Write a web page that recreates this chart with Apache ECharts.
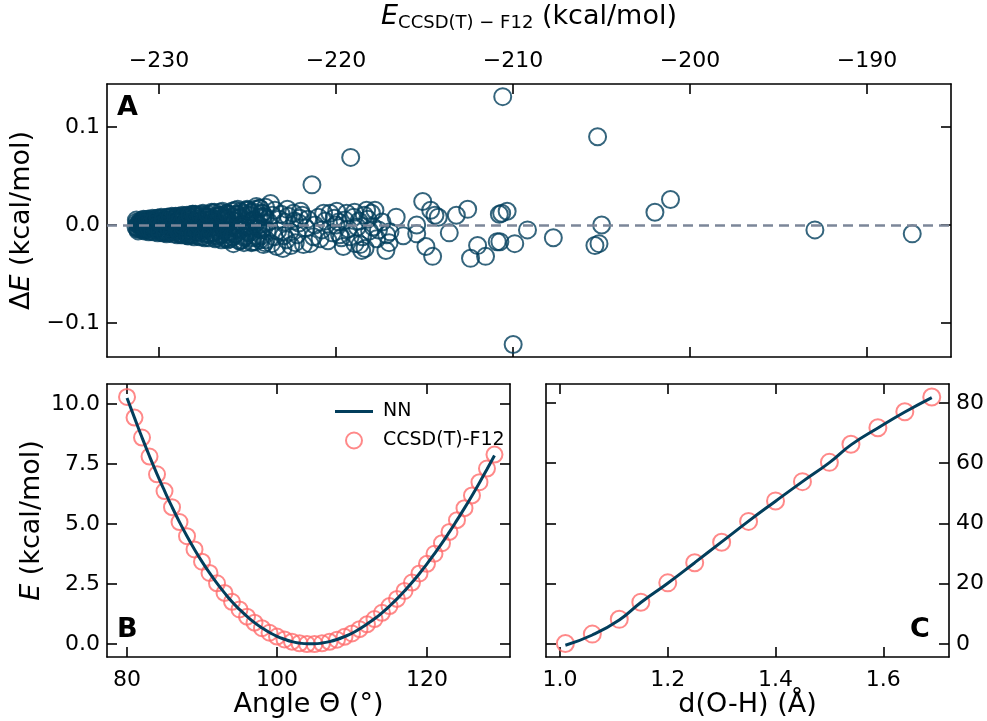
<!DOCTYPE html>
<html>
<head>
<meta charset="utf-8">
<script src="https://cdn.jsdelivr.net/npm/echarts@6/dist/echarts.min.js"></script>
<style>
  html, body { margin: 0; padding: 0; background: #fff; }
  #chart { width: 987px; height: 721px; }
</style>
</head>
<body>
<div id="chart"></div>
<script>
// panel A: E_CCSD(T)-F12 vs NN error
const aPoints = [
  [-231.3, -0.002], [-231.2, 0.001], [-231.1, -0.003], [-231.0, 0.002], [-230.9, -0.001], [-230.8, 0.003],
  [-230.7, -0.004], [-230.6, 0.000], [-230.5, 0.004], [-230.4, -0.003], [-230.3, 0.002], [-230.2, -0.005],
  [-230.1, 0.001], [-230.0, 0.004], [-229.9, -0.004], [-229.8, 0.002], [-229.7, -0.006], [-229.6, 0.005],
  [-229.5, -0.002], [-229.4, 0.003], [-229.3, -0.005], [-229.2, 0.006], [-229.1, -0.001], [-229.0, 0.004],
  [-231.25, 0.003], [-231.15, -0.004], [-231.05, 0.000], [-230.95, 0.004], [-230.85, -0.005], [-230.75, 0.002],
  [-230.65, -0.002], [-230.55, -0.006], [-230.45, 0.005], [-230.35, -0.001], [-230.25, 0.006], [-230.15, -0.004],
  [-230.05, -0.002], [-229.95, 0.007], [-229.85, -0.007], [-229.75, 0.004], [-229.65, -0.001], [-229.55, 0.008],
  [-229.45, -0.008], [-229.35, 0.000], [-229.25, -0.003], [-229.15, 0.007], [-229.05, -0.006],
  [-231.28, 0.005], [-231.18, -0.006], [-231.08, 0.001], [-230.98, -0.002], [-230.88, 0.006], [-230.78, -0.005],
  [-230.68, 0.003], [-230.58, -0.007], [-230.48, 0.000], [-230.38, 0.007], [-230.28, -0.003], [-230.18, 0.004],
  [-230.08, -0.008], [-229.98, 0.002], [-229.88, 0.008], [-229.78, -0.006], [-229.68, 0.001], [-229.58, -0.009],
  [-229.48, 0.006], [-229.38, -0.001], [-229.28, 0.009], [-229.18, -0.004], [-229.08, 0.003], [-228.98, -0.010],
  [-228.88, 0.007], [-228.78, -0.002], [-228.68, 0.010], [-228.58, -0.007], [-228.48, 0.002], [-228.38, -0.011],
  [-228.28, 0.008], [-228.18, -0.003], [-228.08, 0.011],
  [-231.22, -0.004], [-231.12, 0.002], [-231.02, -0.001], [-230.92, 0.005], [-230.82, -0.006], [-230.72, 0.000],
  [-230.62, 0.006], [-230.52, -0.003], [-230.42, 0.004], [-230.32, -0.007], [-230.22, 0.001], [-230.12, 0.007],
  [-230.02, -0.005], [-229.92, 0.003], [-229.82, -0.008], [-229.72, 0.005], [-229.62, 0.000], [-229.52, 0.008],
  [-229.42, -0.006], [-229.32, 0.002], [-229.22, -0.009], [-229.12, 0.006], [-229.02, -0.001], [-228.92, 0.009],
  [-228.82, -0.008], [-228.72, 0.004], [-228.62, -0.010], [-228.52, 0.003], [-228.42, 0.010], [-228.32, -0.009],
  [-228.22, 0.000], [-228.12, 0.011], [-228.02, -0.012],
  [-231.16, 0.000], [-231.06, 0.004], [-230.96, -0.005], [-230.86, 0.002], [-230.76, -0.003], [-230.66, 0.006],
  [-230.56, -0.004], [-230.46, 0.001], [-230.36, -0.006], [-230.26, 0.005], [-230.16, -0.002], [-230.06, 0.007],
  [-229.96, -0.007], [-229.86, 0.000], [-229.76, 0.006], [-229.66, -0.008], [-229.56, 0.004], [-229.46, -0.003],
  [-229.36, 0.008], [-229.26, -0.007], [-229.16, 0.001], [-229.06, 0.009], [-228.96, -0.005], [-228.86, 0.005],
  [-228.76, -0.010], [-228.66, 0.000], [-228.56, 0.009], [-228.46, -0.006], [-228.36, 0.006], [-228.26, 0.001],
  [-228.16, -0.010], [-228.06, 0.004], [-227.96, -0.004],
  [-227.92, 0.010], [-227.82, -0.011], [-227.72, 0.004], [-227.62, -0.005], [-227.52, 0.012], [-227.42, -0.013],
  [-227.32, 0.002], [-227.22, 0.008], [-227.12, -0.009], [-227.02, 0.013], [-226.92, -0.002], [-226.82, -0.014],
  [-226.72, 0.009], [-226.62, 0.001], [-226.52, -0.010], [-226.42, 0.014], [-226.32, -0.006], [-226.22, 0.006],
  [-226.12, -0.015], [-226.02, 0.011], [-225.92, 0.000], [-225.82, -0.012], [-225.72, 0.015], [-225.62, -0.004],
  [-225.52, 0.007], [-225.42, -0.016], [-225.32, 0.012], [-225.22, -0.001], [-225.12, -0.011], [-225.02, 0.016],
  [-224.92, -0.008], [-224.82, 0.004], [-224.72, -0.017], [-224.62, 0.013], [-224.52, 0.002], [-224.42, -0.013],
  [-224.32, 0.017], [-224.22, -0.005], [-224.12, 0.009], [-224.02, -0.018],
  [-227.88, -0.007], [-227.78, 0.006], [-227.68, -0.012], [-227.58, 0.011], [-227.48, 0.000], [-227.38, -0.004],
  [-227.28, 0.009], [-227.18, -0.013], [-227.08, 0.005], [-226.98, -0.008], [-226.88, 0.013], [-226.78, 0.003],
  [-226.68, -0.011], [-226.58, 0.010], [-226.48, -0.015], [-226.38, 0.007], [-226.28, -0.002], [-226.18, 0.012],
  [-226.08, -0.007], [-225.98, -0.014], [-225.88, 0.014], [-225.78, 0.004], [-225.68, -0.009], [-225.58, 0.011],
  [-225.48, -0.016], [-225.38, 0.008], [-225.28, 0.001], [-225.18, -0.013], [-225.08, 0.015], [-224.98, -0.006],
  [-224.88, 0.010], [-224.78, -0.018], [-224.68, 0.005], [-224.58, 0.016], [-224.48, -0.011], [-224.38, 0.000],
  [-224.28, -0.015], [-224.18, 0.012], [-224.08, -0.003], [-223.98, 0.018],
  [-228.9, -0.006], [-228.8, 0.005], [-228.7, -0.003], [-228.6, 0.007], [-228.5, -0.008], [-228.4, 0.002],
  [-228.3, -0.005], [-228.2, 0.006], [-228.1, -0.007], [-228.0, 0.004], [-227.9, -0.002], [-227.8, 0.007],
  [-227.7, -0.008], [-227.6, 0.003], [-227.5, -0.005], [-227.4, 0.008], [-227.3, -0.009], [-227.2, 0.005],
  [-227.1, -0.003], [-227.0, 0.007], [-226.9, -0.008], [-226.8, 0.002], [-226.7, -0.006], [-226.6, 0.009],
  [-226.5, -0.010], [-226.4, 0.004], [-226.3, -0.004], [-226.2, 0.007], [-226.1, -0.009], [-226.0, 0.003],
  [-228.6, -0.001], [-228.2, 0.000], [-227.6, -0.004], [-227.2, 0.001], [-226.8, -0.011], [-226.4, 0.010],
  [-226.2, -0.013], [-227.9, 0.009], [-228.4, -0.010],
  [-228.95, 0.008], [-228.85, -0.009], [-228.75, 0.001], [-228.65, -0.004], [-228.55, 0.009], [-228.45, 0.003],
  [-228.35, -0.011], [-228.25, 0.010], [-228.15, -0.002], [-228.05, -0.010], [-227.95, 0.011], [-227.85, -0.006],
  [-227.75, 0.000], [-227.65, 0.010], [-227.55, -0.012], [-227.45, 0.004], [-227.35, -0.002], [-227.25, 0.011],
  [-227.15, -0.010], [-227.05, -0.005], [-226.95, 0.012], [-226.85, 0.006], [-226.75, -0.013], [-226.65, -0.001],
  [-226.55, 0.013], [-226.45, -0.008], [-226.35, 0.008], [-226.25, -0.014], [-226.15, 0.012], [-226.05, -0.007],
  [-225.9, -0.012], [-225.8, 0.008], [-225.8, -0.019], [-225.6, 0.011], [-225.5, -0.005], [-225.4, 0.014],
  [-225.3, -0.015], [-225.2, -0.018], [-225.1, 0.004], [-225.0, 0.010], [-224.9, -0.008], [-224.8, 0.013],
  [-224.7, -0.013], [-224.6, 0.005], [-224.5, 0.019], [-224.4, -0.004], [-224.3, 0.017], [-224.2, -0.011],
  [-224.1, -0.020], [-224.0, 0.008], [-223.9, -0.006], [-223.7, 0.022], [-223.6, 0.010], [-223.5, -0.012],
  [-225.95, 0.006], [-225.7, -0.010], [-225.55, 0.016], [-225.35, -0.001], [-225.15, -0.012], [-224.95, 0.015],
  [-224.75, -0.003], [-224.55, -0.017], [-224.35, 0.008], [-224.15, 0.012], [-223.95, -0.015], [-223.8, 0.003],
  [-223.65, -0.019], [-223.45, 0.015], [-223.3, -0.006], [-223.1, 0.011], [-222.95, -0.011], [-222.75, 0.016],
  [-222.55, -0.021], [-222.35, 0.004], [-222.2, -0.010], [-222.05, 0.007],
  [-223.35, -0.022], [-223.2, 0.006], [-223.0, -0.024], [-222.9, 0.003], [-222.8, -0.015], [-222.7, 0.009],
  [-222.6, -0.007], [-222.4, 0.012], [-222.3, -0.018], [-222.1, 0.002], [-222.0, 0.014], [-221.84, -0.020],
  [-221.9, 0.010], [-221.6, 0.006], [-221.2, 0.000], [-220.9, -0.014], [-220.7, 0.012], [-220.45, -0.016],
  [-220.1, 0.007], [-219.85, 0.003], [-219.7, -0.013], [-219.5, 0.005], [-219.2, -0.012], [-218.95, 0.013],
  [-218.7, 0.004], [-218.5, -0.012], [-218.2, 0.006], [-218.0, 0.012], [-217.7, -0.014], [-217.4, 0.003],
  [-217.0, -0.018],
  [-221.7, -0.003], [-221.47, -0.019], [-221.36, 0.041], [-221.28, -0.012], [-221.0, 0.008], [-220.8, -0.005],
  [-220.6, 0.004], [-220.34, 0.012], [-220.2, -0.008], [-220.0, 0.000], [-219.96, 0.014], [-219.8, -0.010],
  [-219.59, -0.022], [-219.4, 0.012], [-219.3, -0.004], [-219.17, 0.069], [-219.0, 0.008], [-218.93, -0.019],
  [-218.8, -0.002], [-218.64, -0.020], [-218.55, -0.026], [-218.4, 0.010], [-218.36, -0.024], [-218.27, 0.015],
  [-218.1, -0.006], [-217.9, -0.002], [-217.8, 0.015], [-217.6, -0.005], [-217.18, -0.026], [-217.14, -0.010],
  [-216.95, -0.007], [-216.6, 0.008], [-216.2, -0.011], [-215.44, 0.000], [-215.44, -0.009], [-215.1, 0.024],
  [-214.92, -0.022], [-214.65, 0.015], [-214.54, -0.032], [-214.41, 0.010], [-214.22, 0.008], [-213.6, -0.008],
  [-213.2, 0.010], [-212.56, 0.016], [-212.4, -0.034], [-212.0, -0.021], [-211.55, -0.032], [-210.89, -0.017],
  [-210.77, 0.011], [-210.74, -0.017], [-210.64, 0.012], [-210.58, 0.131], [-210.33, 0.014], [-209.99, -0.122],
  [-209.9, -0.019], [-209.18, -0.005], [-207.72, -0.013], [-205.37, -0.021], [-205.22, 0.090], [-205.14, -0.019],
  [-204.99, 0.000], [-201.98, 0.013], [-201.1, 0.026], [-192.94, -0.005], [-187.44, -0.009]
]

// panel B: bending scan
const bAngle = [80, 81, 82, 83, 84, 85, 86, 87, 88, 89, 90, 91, 92, 93, 94, 95, 96, 97, 98, 99,
  100, 101, 102, 103, 104, 105, 106, 107, 108, 109, 110, 111, 112, 113, 114, 115, 116, 117, 118, 119,
  120, 121, 122, 123, 124, 125, 126, 127, 128, 129]
const bRef = [10.29, 9.43, 8.60, 7.81, 7.07, 6.37, 5.70, 5.08, 4.49, 3.94, 3.43, 2.96, 2.53, 2.13, 1.76,
  1.44, 1.14, 0.89, 0.66, 0.47, 0.31, 0.19, 0.10, 0.03, 0.00, 0.00, 0.03, 0.09, 0.18, 0.30,
  0.44, 0.62, 0.82, 1.04, 1.30, 1.58, 1.88, 2.21, 2.56, 2.94, 3.34, 3.76, 4.20, 4.67, 5.16,
  5.66, 6.19, 6.74, 7.31, 7.89]
const bNN = [10.25, 9.42, 8.60, 7.82, 7.08, 6.38, 5.71, 5.08, 4.49, 3.94, 3.43, 2.96, 2.53, 2.13, 1.76,
  1.44, 1.15, 0.89, 0.67, 0.48, 0.32, 0.20, 0.10, 0.04, 0.01, 0.01, 0.04, 0.10, 0.19, 0.31,
  0.45, 0.63, 0.83, 1.05, 1.30, 1.58, 1.88, 2.21, 2.56, 2.94, 3.34, 3.76, 4.20, 4.67, 5.16,
  5.66, 6.18, 6.72, 7.28, 7.85]

// panel C: O-H stretch scan
const cDist = [1.01, 1.06, 1.11, 1.15, 1.20, 1.25, 1.30, 1.35, 1.40, 1.45, 1.50, 1.54, 1.59, 1.64, 1.69]
const cRef = [0.2, 3.3, 8.2, 13.9, 20.3, 27.0, 33.8, 40.7, 47.5, 53.9, 60.3, 66.3, 71.8, 77.1, 82.0]
const cNN = [-0.4, 3.0, 8.0, 13.8, 20.2, 27.0, 33.9, 40.8, 47.4, 53.9, 60.2, 66.1, 71.7, 77.0, 81.8]

// tick positions
const aXTicks = [-230, -220, -210, -200, -190]
const aYTicks = [-0.1, 0.0, 0.1]
const bXTicks = [80, 100, 120]
const bYTicks = [0, 2.5, 5, 7.5, 10]
const cXTicks = [1.0, 1.2, 1.4, 1.6]
const cYTicks = [0, 20, 40, 60, 80]

const FONT = 'DejaVu Sans'
const DARK = '#023e5c'
const PINK = '#ff6b6b'
const INK = '#000'

function fmt(d) {
  return v => (v < -1e-9 ? '\u2212' : '') + Math.abs(v).toFixed(d)
}

function zip(xs, ys) {
  return xs.map((x, i) => [x, ys[i]])
}

// one axis of a panel; labels: false gives a mirrored tick-only axis
function axis(grid, pos, min, max, ticks, labels, digits, extra) {
  const horizontal = pos === 'top' || pos === 'bottom'
  return Object.assign({
    type: 'value',
    gridIndex: grid,
    position: pos,
    min: min,
    max: max,
    splitLine: { show: false },
    axisLine: { show: true, onZero: false, lineStyle: { color: INK, width: 1.6 } },
    axisTick: {
      show: true, inside: true, length: 10, customValues: ticks,
      lineStyle: { color: INK, width: 1.6 }
    },
    axisLabel: {
      show: labels, customValues: ticks, formatter: fmt(digits),
      fontFamily: FONT, fontSize: 22, color: INK, margin: horizontal ? 12 : 7
    }
  }, extra || {})
}

const nameStyle = { fontFamily: FONT, fontSize: 27, color: INK }

const chart = echarts.init(document.getElementById('chart'), null, { renderer: 'canvas' })

chart.setOption({
  animation: false,
  backgroundColor: '#fff',
  grid: [
    { left: 107, top: 84, width: 844, height: 273 },
    { left: 107, top: 384, width: 403, height: 273 },
    { left: 546, top: 384, width: 404, height: 273 }
  ],
  xAxis: [
    axis(0, 'top', -232.94, -185.25, aXTicks, true, 0, {
      name: '{e|E}{s|CCSD(T) \u2212 F12}{n| (kcal/mol)}',
      nameLocation: 'middle',
      nameGap: 47,
      nameTextStyle: {
        rich: {
          e: { fontFamily: FONT, fontSize: 27, fontStyle: 'italic', color: INK, verticalAlign: 'top', lineHeight: 34 },
          s: { fontFamily: FONT, fontSize: 18, color: INK, verticalAlign: 'top', lineHeight: 34, padding: [11, 0, 0, 0] },
          n: { fontFamily: FONT, fontSize: 27, color: INK, verticalAlign: 'top', lineHeight: 34 }
        }
      }
    }),
    axis(0, 'bottom', -232.94, -185.25, aXTicks, false, 0),
    axis(1, 'bottom', 77.33, 131.07, bXTicks, true, 0, {
      name: 'Angle \u0398 (\u00b0)', nameLocation: 'middle', nameGap: 33, nameTextStyle: nameStyle
    }),
    axis(1, 'top', 77.33, 131.07, bXTicks, false, 0),
    axis(2, 'bottom', 0.974, 1.722, cXTicks, true, 1, {
      name: 'd(O-H) (\u00c5)', nameLocation: 'middle', nameGap: 33, nameTextStyle: nameStyle
    }),
    axis(2, 'top', 0.974, 1.722, cXTicks, false, 1)
  ],
  yAxis: [
    axis(0, 'left', -0.1347, 0.1439, aYTicks, true, 1, {
      name: '{d|\u0394}{e|E}{n| (kcal/mol)}',
      nameLocation: 'middle',
      nameGap: 62,
      nameTextStyle: {
        rich: {
          d: { fontFamily: FONT, fontSize: 27, color: INK },
          e: { fontFamily: FONT, fontSize: 27, fontStyle: 'italic', color: INK },
          n: { fontFamily: FONT, fontSize: 27, color: INK }
        }
      }
    }),
    axis(0, 'right', -0.1347, 0.1439, aYTicks, false, 1),
    axis(1, 'left', -0.54, 10.83, bYTicks, true, 1, {
      name: '{e|E}{n| (kcal/mol)}',
      nameLocation: 'middle',
      nameGap: 62,
      nameTextStyle: {
        rich: {
          e: { fontFamily: FONT, fontSize: 27, fontStyle: 'italic', color: INK },
          n: { fontFamily: FONT, fontSize: 27, color: INK }
        }
      }
    }),
    axis(1, 'right', -0.54, 10.83, bYTicks, false, 1),
    axis(2, 'right', -4.3, 86.3, cYTicks, true, 0),
    axis(2, 'left', -4.3, 86.3, cYTicks, false, 0)
  ],
  legend: {
    data: [
      { name: 'NN', icon: 'path://M0,0 L38,0 L38,3 L0,3 Z' },
      { name: 'CCSD(T)-F12' }
    ],
    orient: 'vertical',
    left: 330,
    top: 396,
    itemWidth: 38,
    itemHeight: 16,
    itemGap: 8,
    textStyle: { fontFamily: FONT, fontSize: 19, lineHeight: 21, color: INK, padding: [0, 0, 0, 5] }
  },
  graphic: [
    { type: 'text', left: 117, top: 94, style: { text: 'A', fontFamily: FONT, fontSize: 27, fontWeight: 'bold', fill: '#000' } },
    { type: 'text', left: 117, top: 616, style: { text: 'B', fontFamily: FONT, fontSize: 27, fontWeight: 'bold', fill: '#000' } },
    { type: 'text', left: 910, top: 616, style: { text: 'C', fontFamily: FONT, fontSize: 27, fontWeight: 'bold', fill: '#000' } }
  ],
  series: [
    {
      name: 'A',
      type: 'scatter',
      xAxisIndex: 0,
      yAxisIndex: 0,
      data: aPoints,
      symbol: 'circle',
      symbolSize: 17,
      itemStyle: { color: 'rgba(0,0,0,0)', borderColor: DARK, borderWidth: 2 },
      markLine: {
        silent: true,
        symbol: 'none',
        label: { show: false },
        lineStyle: { color: '#7c8799', type: [10, 6], width: 2.5 },
        data: [{ yAxis: 0 }]
      }
    },
    {
      name: 'CCSD(T)-F12',
      type: 'scatter',
      xAxisIndex: 2,
      yAxisIndex: 2,
      data: zip(bAngle, bRef),
      symbol: 'circle',
      symbolSize: 16,
      itemStyle: { color: 'rgba(0,0,0,0)', borderColor: PINK, borderWidth: 2 }
    },
    {
      name: 'NN',
      type: 'line',
      xAxisIndex: 2,
      yAxisIndex: 2,
      data: zip(bAngle, bNN),
      smooth: true,
      symbol: 'none',
      lineStyle: { color: DARK, width: 3 },
      itemStyle: { color: DARK }
    },
    {
      name: 'CCSD(T)-F12',
      type: 'scatter',
      xAxisIndex: 4,
      yAxisIndex: 4,
      data: zip(cDist, cRef),
      symbol: 'circle',
      symbolSize: 17,
      itemStyle: { color: 'rgba(0,0,0,0)', borderColor: PINK, borderWidth: 2 }
    },
    {
      name: 'NN',
      type: 'line',
      xAxisIndex: 4,
      yAxisIndex: 4,
      data: zip(cDist, cNN),
      smooth: true,
      symbol: 'none',
      lineStyle: { color: DARK, width: 3 },
      itemStyle: { color: DARK }
    }
  ]
})
</script>
</body>
</html>
